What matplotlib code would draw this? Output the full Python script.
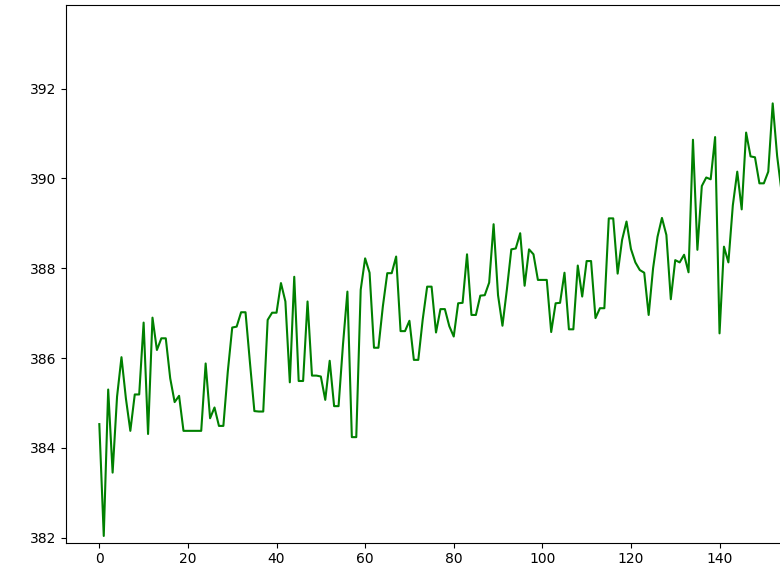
import matplotlib
matplotlib.use("Agg")
import matplotlib.pyplot as plt
import numpy as np

values = [
    384.53, 382.04, 385.30, 383.45, 385.14, 386.02, 385.10, 384.38, 385.19, 385.19,
    386.79, 384.31, 386.90, 386.18, 386.44, 386.44, 385.55, 385.02, 385.16, 384.38,
    384.38, 384.38, 384.38, 384.38, 385.88, 384.66, 384.90, 384.49, 384.49, 385.70,
    386.68, 386.70, 387.02, 387.02, 385.90, 384.82, 384.81, 384.81, 386.85, 387.01,
    387.01, 387.67, 387.26, 385.46, 387.81, 385.49, 385.49, 387.26, 385.61, 385.61,
    385.59, 385.07, 385.94, 384.93, 384.93, 386.30, 387.48, 384.24, 384.24, 387.52,
    388.22, 387.90, 386.23, 386.23, 387.15, 387.89, 387.89, 388.26, 386.60, 386.60,
    386.83, 385.96, 385.96, 386.86, 387.59, 387.59, 386.57, 387.09, 387.09, 386.71,
    386.48, 387.22, 387.23, 388.31, 386.96, 386.96, 387.39, 387.40, 387.68, 388.98,
    387.40, 386.72, 387.53, 388.42, 388.44, 388.78, 387.61, 388.42, 388.31, 387.74,
    387.74, 387.74, 386.58, 387.22, 387.23, 387.90, 386.64, 386.64, 388.06, 387.37,
    388.16, 388.16, 386.89, 387.11, 387.11, 389.11, 389.11, 387.88, 388.63, 389.04,
    388.43, 388.13, 387.96, 387.90, 386.96, 388.00, 388.70, 389.12, 388.74, 387.31,
    388.18, 388.13, 388.30, 387.91, 390.86, 388.41, 389.83, 390.02, 389.98, 390.92,
    386.55, 388.48, 388.13, 389.40, 390.15, 389.31, 391.02, 390.49, 390.47, 389.89,
    389.89, 390.15, 391.67, 390.50, 389.70,
]
x = np.arange(len(values))

xticks = [0, 20, 40, 60, 80, 100, 120, 140]
yticks = [382, 384, 386, 388, 390, 392]

fig = plt.figure(figsize=(7.8, 5.8), dpi=100)
ax = fig.add_axes([65.7 / 780, 37.3 / 580, 751.3 / 780, 537.7 / 580])
ax.plot(x, values, color="green", linewidth=1.5)
ax.set_xlim(-7.59, 162.0)
ax.set_ylim(381.89, 393.86)
ax.set_xticks(xticks)
ax.set_yticks(yticks)
fig.savefig("out.png", dpi=100)
